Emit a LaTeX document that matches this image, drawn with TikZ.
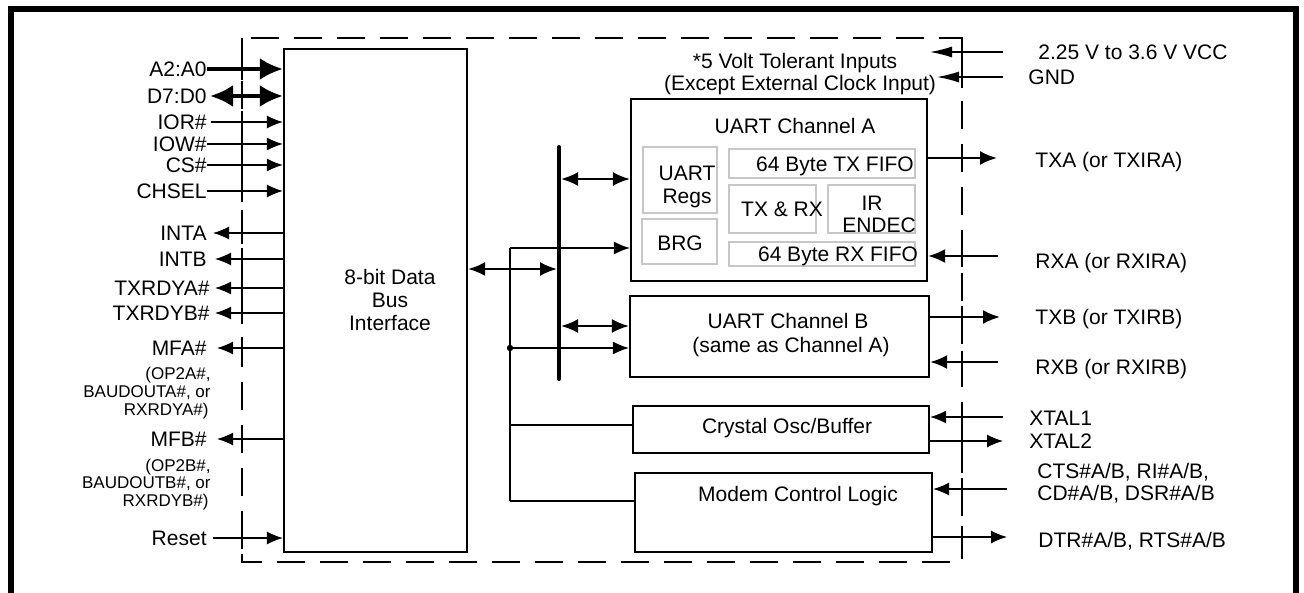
\documentclass[tikz,border=0pt]{standalone}
\usepackage{fontspec}
\setmainfont{Liberation Sans}
\usetikzlibrary{arrows.meta}
\begin{document}
\begin{tikzpicture}[x=0.5pt,y=-0.5pt,
  blk/.style={draw, line width=1.1pt, inner sep=0pt},
  sub/.style={draw=black!22, line width=0.9pt, inner sep=0pt},
  txt/.style={inner sep=0pt, font=\fontsize{10.5}{12}\selectfont, text height=7.5pt, text depth=0pt},
  sml/.style={inner sep=0pt, font=\fontsize{8.5}{10}\selectfont, text height=6.1pt, text depth=0pt},
  sig/.style={line width=0.65pt, -{Latex[length=8pt,width=6.5pt]}},
  pwr/.style={line width=0.65pt, -{Latex[length=11pt,width=5.5pt]}},
  med/.style={line width=1.1pt, -{Latex[length=8.5pt,width=7pt]}},
  meddbl/.style={line width=1.1pt, {Latex[length=8.5pt,width=7pt]}-{Latex[length=8.5pt,width=7pt]}},
  big/.style={line width=2pt, -{Latex[length=11.5pt,width=11pt]}},
  bigdbl/.style={line width=2pt, {Latex[length=11.5pt,width=11pt]}-{Latex[length=11.5pt,width=11pt]}},
  wire/.style={line width=0.65pt},
  tickmark/.style={line width=1pt},
]
\useasboundingbox (0,0) rectangle (1304,593);
% outer frame
\draw[line width=3pt] (11,600) -- (11,9) -- (1296,9) -- (1296,600);
% dashed chip outline
\draw[line width=1pt, dash pattern=on 14pt off 7.5pt] (242,38) rectangle (962,562);
\foreach \yy in {69,96,122,144,165,191,233,259,288,313,348,439,538}
  \draw[tickmark] (242,\yy-11) -- (242,\yy+11);
\foreach \yy in {52,77,158,256,317,362,417,441,489,537}
  \draw[tickmark] (962,\yy-11) -- (962,\yy+11);

% interface block
\node[blk, minimum width=91.5pt, minimum height=251.5pt] (ifc) at (375.5,300.5) {};
\node[txt] (ifc1) at (390,277) {8-bit Data};
\node[txt] (ifc2) at (390,300) {Bus};
\node[txt] (ifc3) at (390,323) {Interface};

% UART A
\node[blk, minimum width=148pt, minimum height=91pt] (ua) at (779,190) {};
\node[txt] (uat) at (795,126) {UART Channel A};
\node[sub, minimum width=37pt, minimum height=33pt] (regs) at (680,180) {};
\node[txt] (regs1) at (687,173) {UART};
\node[txt] (regs2) at (687,196) {Regs};
\node[sub, minimum width=37.5pt, minimum height=22.5pt] (brg) at (679.5,241.5) {};
\node[txt] (brgt) at (680,243) {BRG};
\node[sub, minimum width=93pt, minimum height=14.5pt] (txf) at (822,163.5) {};
\node[txt] (txft) at (835,164) {64 Byte TX FIFO};
\node[sub, minimum width=43.5pt, minimum height=24pt] (txrx) at (772.5,209) {};
\node[txt] (txrxt) at (782,209) {TX \& RX};
\node[sub, minimum width=43.5pt, minimum height=24pt] (ir) at (871.5,209) {};
\node[txt] (ir1) at (872,203) {IR};
\node[txt] (ir2) at (879,225) {ENDEC};
\node[sub, minimum width=93pt, minimum height=12pt] (rxf) at (822,254) {};
\node[txt] (rxft) at (838,254) {64 Byte RX FIFO};

% UART B, crystal, modem
\node[blk, minimum width=149.5pt, minimum height=40.5pt] (ub) at (779.5,336.5) {};
\node[txt] (ub1) at (788,321) {UART Channel B};
\node[txt] (ub2) at (791,345) {(same as Channel A)};
\node[blk, minimum width=148pt, minimum height=23.5pt] (xt) at (781,429.5) {};
\node[txt] (xtt) at (787,426) {Crystal Osc/Buffer};
\node[blk, minimum width=148.5pt, minimum height=39.5pt] (mc) at (783.5,512.5) {};
\node[txt] (mct) at (798,494) {Modem Control Logic};

% top note
\node[txt] (note1) at (795,61) {*5 Volt Tolerant Inputs};
\node[txt] (note2) at (800,83) {(Except External Clock Input)};

% internal bus
\coordinate (busT) at (559,147);
\coordinate (busB) at (559,379);
\draw[line width=2pt, line cap=round] (busT) -- (busB);
\coordinate (b1) at (557,269);
\draw[meddbl] (ifc.east |- b1) -- (b1);
\coordinate (b2) at (561,179);
\draw[meddbl] (b2) -- (ua.west |- b2);
\coordinate (b3) at (561,326);
\draw[meddbl] (b3) -- (ub.west |- b3);

% control distribution
\coordinate (vt) at (510,248);
\coordinate (vm) at (510,348);
\coordinate (vx) at (510,425);
\coordinate (vb) at (510,501);
\draw[wire] (vt) -- (vb);
\draw[sig] (vt) -- (ua.west |- vt);
\draw[sig] (vm) -- (ub.west |- vm);
\fill (vm) circle (1.6pt);
\draw[wire] (vx) -- (xt.west |- vx);
\draw[wire] (vb) -- (mc.west |- vb);

% left pins
\node[txt, anchor=east] (lA) at (207,69) {A2:A0};
\node[txt, anchor=east] (lD) at (207,96) {D7:D0};
\node[txt, anchor=east] (lIOR) at (207,122) {IOR\#};
\node[txt, anchor=east] (lIOW) at (207,144) {IOW\#};
\node[txt, anchor=east] (lCS) at (207,165) {CS\#};
\node[txt, anchor=east] (lCH) at (207,191) {CHSEL};
\node[txt, anchor=east] (lINTA) at (207,233) {INTA};
\node[txt, anchor=east] (lINTB) at (207,259) {INTB};
\node[txt, anchor=east] (lTXA) at (210,288) {TXRDYA\#};
\node[txt, anchor=east] (lTXB) at (210,313) {TXRDYB\#};
\node[txt, anchor=east] (lMFA) at (207,348) {MFA\#};
\node[sml, anchor=east] (sA1) at (211,373) {(OP2A\#,};
\node[sml, anchor=east] (sA2) at (211,391) {BAUDOUTA\#, or};
\node[sml, anchor=east] (sA3) at (209,409) {RXRDYA\#)};
\node[txt, anchor=east] (lMFB) at (207,439) {MFB\#};
\node[sml, anchor=east] (sB1) at (211,465) {(OP2B\#,};
\node[sml, anchor=east] (sB2) at (211,482) {BAUDOUTB\#, or};
\node[sml, anchor=east] (sB3) at (209,500) {RXRDYB\#)};
\node[txt, anchor=east] (lRST) at (207,538) {Reset};

\draw[big] (lA.east) -- (lA.east -| ifc.west);
\draw[bigdbl] ([xshift=1.5pt]lD.east) -- (lD.east -| ifc.west);
\draw[sig] ([xshift=2pt]lIOR.east) -- (lIOR.east -| ifc.west);
\draw[sig] (lIOW.east) -- (lIOW.east -| ifc.west);
\draw[sig] (lCS.east) -- (lCS.east -| ifc.west);
\draw[sig] (lCH.east) -- (lCH.east -| ifc.west);
\draw[sig] (lINTA.east -| ifc.west) -- ([xshift=3pt]lINTA.east);
\draw[sig] (lINTB.east -| ifc.west) -- ([xshift=4pt]lINTB.east);
\draw[sig] (lTXA.east -| ifc.west) -- ([xshift=2.5pt]lTXA.east);
\draw[sig] (lTXB.east -| ifc.west) -- ([xshift=2.5pt]lTXB.east);
\draw[sig] (lMFA.east -| ifc.west) -- ([xshift=5pt]lMFA.east);
\draw[sig] (lMFB.east -| ifc.west) -- ([xshift=5pt]lMFB.east);
\draw[sig] ([xshift=3pt]lRST.east) -- (lRST.east -| ifc.west);

% right pins
\node[txt, anchor=west] (rVCC) at (1038,52) {2.25 V to 3.6 V VCC};
\node[txt, anchor=west] (rGND) at (1028,77) {GND};
\node[txt, anchor=west] (rTXA) at (1035,160) {TXA (or TXIRA)};
\node[txt, anchor=west] (rRXA) at (1035,261) {RXA (or RXIRA)};
\node[txt, anchor=west] (rTXB) at (1035,317) {TXB (or TXIRB)};
\node[txt, anchor=west] (rRXB) at (1035,367) {RXB (or RXIRB)};
\node[txt, anchor=west] (rX1) at (1029,418) {XTAL1};
\node[txt, anchor=west] (rX2) at (1029,441) {XTAL2};
\node[txt, anchor=west] (rC1) at (1037,471) {CTS\#A/B, RI\#A/B,};
\node[txt, anchor=west] (rC2) at (1037,493) {CD\#A/B, DSR\#A/B};
\node[txt, anchor=west] (rDTR) at (1038,540) {DTR\#A/B, RTS\#A/B};

\coordinate (vccS) at (1003,52);
\coordinate (vccE) at (930,52);
\draw[pwr] (vccS) -- (vccE);
\coordinate (gndS) at (1003,77);
\coordinate (gndE) at (937,77);
\draw[pwr] (gndS) -- (gndE);
\coordinate (txaE) at (997,158);
\draw[med] (ua.east |- txaE) -- (txaE);
\coordinate (rxaS) at (998,256);
\draw[med] (rxaS) -- (ua.east |- rxaS);
\coordinate (txbE) at (1000,317);
\draw[med] (ub.east |- txbE) -- (txbE);
\coordinate (rxbS) at (998,362);
\draw[med] (rxbS) -- (ub.east |- rxbS);
\coordinate (x1S) at (1003,417);
\draw[sig] (x1S) -- (xt.east |- x1S);
\coordinate (x2E) at (1003,441);
\draw[sig] (xt.east |- x2E) -- (x2E);
\coordinate (ctsS) at (1007,489);
\draw[sig] (ctsS) -- (mc.east |- ctsS);
\coordinate (dtrE) at (1007,537);
\draw[sig] (mc.east |- dtrE) -- (dtrE);
\end{tikzpicture}
\end{document}
